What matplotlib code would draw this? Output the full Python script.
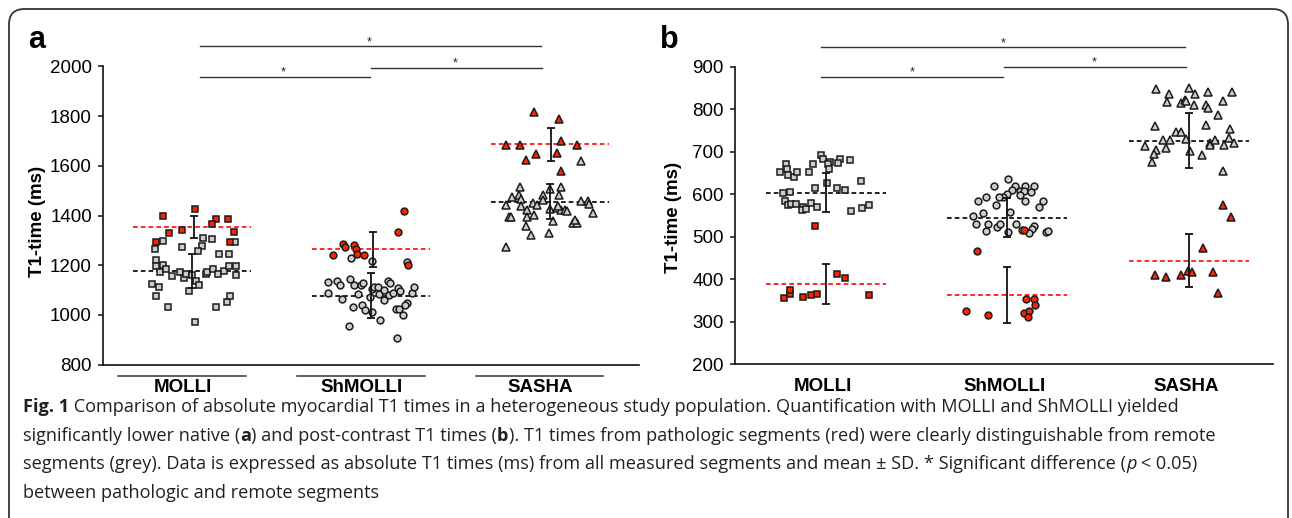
import matplotlib
matplotlib.use("Agg")
import matplotlib.pyplot as plt
from matplotlib.patches import FancyBboxPatch
from matplotlib.transforms import IdentityTransform, blended_transform_factory

# ---------------- data ----------------
methods = ["MOLLI", "ShMOLLI", "SASHA"]

# Panel a: native T1 (ms)
a_molli_grey = [1299, 1265, 1311, 1306, 1275, 1279, 1257, 1245, 1245, 1292, 1220, 1198, 1201, 1174, 1185,
                1156, 1172, 1148, 1166, 1161, 1137, 1121, 1097, 1164, 1174, 1185, 1164, 1177, 1198, 1198,
                1161, 1123, 1114, 1078, 1032, 1034, 1051, 1078, 971]
a_molli_grey_dx = [-0.164, -0.208, 0.058, 0.108, -0.060, 0.056, 0.030, 0.149, 0.203, 0.240, -0.205, -0.205,
                   -0.164, -0.183, -0.149, -0.116, -0.071, -0.045, -0.038, 0.000, 0.019, 0.036, -0.017, 0.074,
                   0.082, 0.115, 0.143, 0.175, 0.208, 0.246, 0.246, -0.223, -0.188, -0.201, -0.134, 0.134,
                   0.194, 0.212, 0.017]
a_molli_red = [1400, 1426, 1386, 1386, 1365, 1342, 1331, 1332, 1292, 1292]
a_molli_red_dx = [-0.164, 0.017, 0.134, 0.197, 0.108, -0.060, -0.132, 0.235, -0.201, 0.211]

a_shmolli_grey = [1229, 1217, 1211, 1133, 1137, 1121, 1146, 1119, 1119, 1130, 1085, 1087, 1063, 1103, 1114,
                  1111, 1074, 1085, 1138, 1127, 1101, 1081, 1060, 1090, 1107, 1098, 1090, 1111, 1047, 1039,
                  1031, 1039, 1018, 1010, 1026, 1023, 1001, 980, 957, 909]
a_shmolli_grey_dx = [-0.112, 0.004, 0.203, -0.242, -0.190, -0.171, -0.115, -0.095, -0.058, -0.045, -0.071,
                     -0.242, -0.164, 0.004, 0.019, 0.041, -0.007, 0.045, 0.093, 0.104, 0.074, 0.101, 0.071,
                     0.125, 0.149, 0.160, 0.231, 0.242, 0.203, 0.192, -0.101, -0.052, -0.032, 0.004, 0.138,
                     0.157, 0.179, 0.048, -0.123, 0.145]
a_shmolli_red = [1420, 1335, 1284, 1275, 1280, 1267, 1245, 1241, 1240, 1201]
a_shmolli_red_dx = [0.183, 0.149, -0.156, -0.145, -0.093, -0.082, -0.078, -0.039, -0.210, 0.208]

a_sasha_grey = [1618, 1513, 1513, 1505, 1473, 1481, 1468, 1481, 1462, 1483, 1441, 1438, 1449, 1444, 1422,
                1425, 1429, 1422, 1422, 1420, 1438, 1460, 1460, 1446, 1409, 1393, 1393, 1393, 1401, 1379,
                1369, 1369, 1382, 1358, 1323, 1331, 1275]
a_sasha_grey_dx = [0.175, -0.164, 0.065, 0.002, -0.210, -0.173, -0.162, -0.035, -0.039, 0.050, -0.244,
                   -0.158, -0.091, -0.072, -0.128, 0.002, 0.043, 0.061, 0.084, 0.099, 0.045, 0.173, 0.214,
                   0.222, 0.244, -0.225, -0.214, -0.128, -0.087, 0.020, 0.132, 0.151, 0.140, -0.135,
                   -0.105, -0.006, -0.244]
a_sasha_red = [1818, 1788, 1684, 1685, 1701, 1684, 1647, 1623, 1650, 1579]
a_sasha_red_dx = [-0.088, 0.050, -0.246, -0.164, 0.065, 0.151, -0.074, -0.130, 0.043, 0.065]

a_grey_mean = [1177, 1078, 1456]
a_grey_sd = [68, 91, 69]
a_red_mean = [1355, 1264, 1686]
a_red_sd = [44, 70, 67]

# Panel b: post-contrast T1 (ms)
b_molli_grey = [692, 682, 677, 671, 683, 673, 681, 659, 671, 653, 670, 660, 652, 645, 640, 652, 626, 615,
                632, 615, 610, 604, 605, 585, 574, 577, 577, 571, 563, 565, 579, 571, 561, 568, 574]
b_molli_grey_dx = [-0.024, -0.015, 0.026, 0.015, 0.077, 0.070, 0.132, 0.018, -0.070, -0.094, -0.220,
                   -0.216, -0.250, -0.209, -0.176, -0.158, 0.006, -0.059, 0.195, 0.064, 0.106, -0.235,
                   -0.198, -0.227, -0.209, -0.189, -0.165, -0.125, -0.131, -0.107, -0.083, -0.048, 0.140,
                   0.200, 0.239]
b_molli_red = [526, 412, 404, 355, 365, 375, 359, 362, 365, 364]
b_molli_red_dx = [-0.059, 0.064, 0.106, -0.231, -0.198, -0.198, -0.125, -0.083, -0.048, 0.239]

b_shmolli_grey = [635, 619, 619, 619, 619, 611, 608, 608, 605, 601, 598, 593, 593, 593, 583, 585, 585, 575,
                  569, 558, 555, 549, 530, 530, 524, 530, 513, 530, 511, 525, 519, 508, 511, 514, 517]
b_shmolli_grey_dx = [0.003, -0.074, 0.041, 0.096, 0.150, 0.025, 0.072, 0.090, 0.131, -0.001, 0.069, -0.023,
                     -0.045, -0.118, -0.162, 0.098, 0.198, -0.060, 0.176, 0.017, -0.133, -0.188, -0.170,
                     -0.103, -0.056, -0.041, -0.114, 0.050, 0.003, 0.150, 0.139, 0.120, 0.212, 0.227, 0.080]
b_shmolli_red = [516, 467, 325, 317, 353, 353, 339, 320, 325, 312]
b_shmolli_red_dx = [0.091, -0.166, -0.229, -0.103, 0.106, 0.146, 0.153, 0.094, 0.120, 0.113]

b_sasha_grey = [847, 849, 840, 840, 836, 836, 817, 814, 822, 820, 809, 809, 804, 820, 786, 760, 762, 754,
                746, 746, 728, 728, 729, 713, 704, 695, 709, 676, 702, 693, 721, 715, 728, 715, 732, 720, 655]
b_sasha_grey_dx = [-0.178, 0.002, 0.108, 0.241, -0.108, 0.035, -0.119, -0.042, -0.020, -0.013, 0.031, 0.094,
                   0.108, 0.189, 0.160, -0.186, 0.097, 0.230, -0.072, -0.042, -0.141, -0.104, -0.016,
                   -0.241, -0.182, -0.193, -0.123, -0.200, 0.006, 0.075, 0.116, 0.120, 0.145, 0.193, 0.222,
                   0.252, 0.189]
b_sasha_red = [574, 547, 473, 411, 406, 409, 419, 416, 416, 367]
b_sasha_red_dx = [0.189, 0.233, 0.079, -0.186, -0.127, -0.042, -0.005, 0.020, 0.134, 0.160]

b_grey_mean = [604, 545, 726]
b_grey_sd = [45, 45, 65]
b_red_mean = [389, 362, 444]
b_red_sd = [48, 66, 63]

a_yticks = [800, 1000, 1200, 1400, 1600, 1800, 2000]
b_yticks = [200, 300, 400, 500, 600, 700, 800, 900]
y_label = "T1-time (ms)"

caption_lines = [
    [("Fig. 1", "bold"), (" Comparison of absolute myocardial T1 times in a heterogeneous study population. "
                          "Quantification with MOLLI and ShMOLLI yielded", "normal")],
    [("significantly lower native (", "normal"), ("a", "bold"), (") and post-contrast T1 times (", "normal"),
     ("b", "bold"), ("). T1 times from pathologic segments (red) were clearly distinguishable from remote", "normal")],
    [("segments (grey). Data is expressed as absolute T1 times (ms) from all measured segments and mean \u00b1 SD. "
      "* Significant difference (", "normal"), ("p", "italic"), (" < 0.05)", "normal")],
    [("between pathologic and remote segments", "normal")],
]

# ---------------- drawing ----------------
W, H = 1292, 518
fig = plt.figure(figsize=(W / 100, H / 100), dpi=100)
fig.patch.set_facecolor("white")

FONT = "Liberation Sans"
GREY = "#cdcdcd"
RED = "#ff2200"
EDGE = "#1a1a1a"
LINE = "#333333"


def fbox(x0, y0, x1, y1):
    return [x0 / W, 1 - y1 / H, (x1 - x0) / W, (y1 - y0) / H]


ax_a = fig.add_axes(fbox(103, 66.3, 639, 364.7))
ax_b = fig.add_axes(fbox(735, 66.7, 1273, 364.3))

panel_a = {
    "grey": [(a_molli_grey, a_molli_grey_dx), (a_shmolli_grey, a_shmolli_grey_dx), (a_sasha_grey, a_sasha_grey_dx)],
    "red": [(a_molli_red, a_molli_red_dx), (a_shmolli_red, a_shmolli_red_dx), (a_sasha_red, a_sasha_red_dx)],
}
panel_b = {
    "grey": [(b_molli_grey, b_molli_grey_dx), (b_shmolli_grey, b_shmolli_grey_dx), (b_sasha_grey, b_sasha_grey_dx)],
    "red": [(b_molli_red, b_molli_red_dx), (b_shmolli_red, b_shmolli_red_dx), (b_sasha_red, b_sasha_red_dx)],
}
markers = ["s", "o", "^"]
msizes = [4.6, 4.9, 5.6]


def draw_panel(ax, data, gmean, gsd, rmean, rsd, ylim, yticks, xlim, red_bar_off):
    ax.set_xlim(*xlim)
    ax.set_ylim(*ylim)
    for i in range(3):
        c = i + 1
        # mean lines
        ax.plot([c - 0.33, c + 0.33], [gmean[i]] * 2, color="#222222", lw=1.4, ls=(0, (2.4, 1.6)), zorder=2)
        ax.plot([c - 0.33, c + 0.33], [rmean[i]] * 2, color="#ff2a2a", lw=1.4, ls=(0, (2.4, 1.6)), zorder=2)
        gv, gdx = data["grey"][i]
        rv, rdx = data["red"][i]
        ax.plot([c + d for d in gdx], gv, ls="none", marker=markers[i], ms=msizes[i], mfc=GREY, mec=EDGE,
                mew=1.1, zorder=3)
        ax.plot([c + d for d in rdx], rv, ls="none", marker=markers[i], ms=msizes[i], mfc=RED, mec=EDGE,
                mew=1.1, zorder=4)
        ax.errorbar([c], [gmean[i]], yerr=[gsd[i]], fmt="none", ecolor="#111111", elinewidth=1.3,
                    capsize=3.2, capthick=1.3, zorder=5)
        ax.errorbar([c + red_bar_off], [rmean[i]], yerr=[rsd[i]], fmt="none", ecolor="#111111",
                    elinewidth=1.3, capsize=3.2, capthick=1.3, zorder=5)
    for s in ["top", "right"]:
        ax.spines[s].set_visible(False)
    for s in ["left", "bottom"]:
        ax.spines[s].set_linewidth(1.2)
        ax.spines[s].set_color("#111111")
    ax.set_xticks([])
    ax.set_yticks(yticks)
    ax.set_yticklabels([str(t) for t in yticks], fontfamily=FONT, fontsize=13.5)
    ax.tick_params(axis="y", length=3.5, width=1.1, pad=4.5, color="#111111")
    ax.patch.set_alpha(0)


draw_panel(ax_a, panel_a, a_grey_mean, a_grey_sd, a_red_mean, a_red_sd, (800, 2000), a_yticks, (0.5, 3.5), 0.01)
draw_panel(ax_b, panel_b, b_grey_mean, b_grey_sd, b_red_mean, b_red_sd, (200, 900), b_yticks, (0.5, 3.465), 0.0)

# category labels
tra = blended_transform_factory(ax_a.transData, ax_a.transAxes)
trb = blended_transform_factory(ax_b.transData, ax_b.transAxes)
for i, m in enumerate(methods):
    c = i + 1
    ax_a.text(c - 0.05, -0.078, m, transform=tra, ha="center", va="center", fontfamily=FONT,
              fontweight="bold", fontsize=13.5)
    ax_a.plot([c - 0.415, c + 0.30], [-0.037, -0.037], transform=tra, color=LINE, lw=1.1, clip_on=False)
    ax_b.text(c - 0.015, -0.073, m, transform=trb, ha="center", va="center", fontfamily=FONT,
              fontweight="bold", fontsize=13.5)

# significance bars
def sig(ax, x0, x1, y, sx, sy):
    ax.plot([x0, x1], [y, y], color=LINE, lw=1.0, clip_on=False, zorder=6)
    ax.text(sx, sy, "*", ha="center", va="center", fontsize=9, fontfamily=FONT, color="#222222",
            clip_on=False)

sig(ax_a, 1.045, 2.95, 2083, 1.99, 2096)
sig(ax_a, 1.045, 1.994, 1958, 1.51, 1975)
sig(ax_a, 2.0, 2.955, 1994, 2.47, 2013)
sig(ax_b, 0.976, 2.98, 947, 1.98, 955)
sig(ax_b, 0.976, 1.978, 876.5, 1.477, 886)
sig(ax_b, 1.98, 2.983, 900, 2.48, 909)

# y labels and panel letters
fig.text(37 / W, 1 - 221 / H, y_label, rotation=90, ha="center", va="center", fontfamily=FONT,
         fontweight="bold", fontsize=13.5)
fig.text(674 / W, 1 - 217 / H, y_label, rotation=90, ha="center", va="center", fontfamily=FONT,
         fontweight="bold", fontsize=13.5)
fig.text(28 / W, 1 - 48 / H, "a", ha="left", va="baseline", fontfamily=FONT, fontweight="bold", fontsize=22)
fig.text(660 / W, 1 - 48 / H, "b", ha="left", va="baseline", fontfamily=FONT, fontweight="bold", fontsize=22)

# outer rounded frame
frame = FancyBboxPatch((9 / W, -0.2), (1288 - 9) / W, (1 + 0.2) - 9 / H,
                       boxstyle="round,pad=0,rounding_size=0.012", transform=fig.transFigure,
                       fill=False, ec="#333333", lw=1.3, mutation_aspect=W / H)
fig.patches.append(frame)

# caption (mixed bold / italic runs)
renderer = fig.canvas.get_renderer()
CAP_FONT = "Open Sans"
CAP_SIZE = 13.05


def text_width(s, **kw):
    t1 = fig.text(0, 0, "|" + s + "|", transform=IdentityTransform(), **kw)
    t2 = fig.text(0, 0, "||", transform=IdentityTransform(), **kw)
    w = t1.get_window_extent(renderer).width - t2.get_window_extent(renderer).width
    t1.remove()
    t2.remove()
    return w


baselines = [412.3, 440.7, 469.1, 497.5]
for line, base in zip(caption_lines, baselines):
    x = 23.0
    for s, style in line:
        kw = dict(fontfamily=CAP_FONT, fontsize=CAP_SIZE, color="#231f20")
        if style == "bold":
            kw["fontweight"] = "bold"
        elif style == "italic":
            kw["fontstyle"] = "italic"
        fig.text(x, H - base, s, transform=IdentityTransform(), ha="left", va="baseline", **kw)
        x += text_width(s, **kw)

fig.savefig("out.png", dpi=100)
